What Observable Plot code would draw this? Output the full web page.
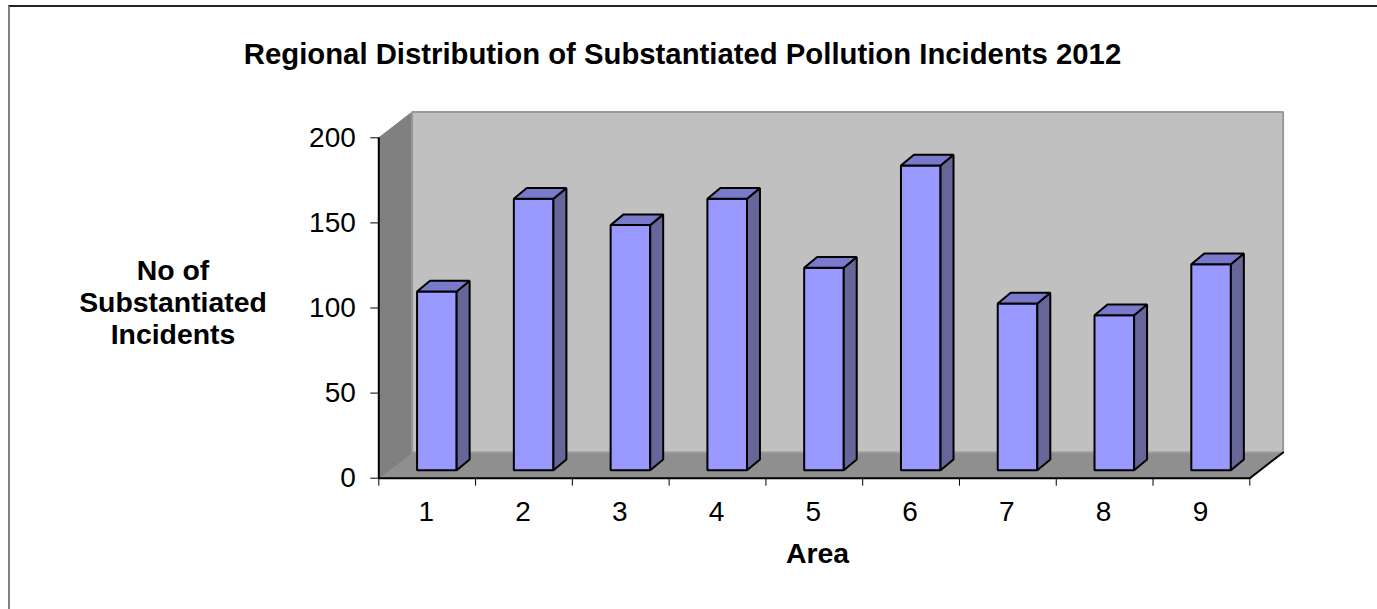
<!DOCTYPE html>
<html><head><meta charset="utf-8">
<script src="https://cdn.jsdelivr.net/npm/d3@7"></script>
<script src="https://cdn.jsdelivr.net/npm/@observablehq/plot@0.6"></script>
<style>
html,body{margin:0;background:#fff;overflow:hidden}
#frame{position:absolute;left:8px;top:5px;width:1369px;height:604px;box-sizing:border-box;border-left:2px solid #808080;border-top:2px solid #222}
#chart{position:absolute;left:0;top:0}
#chart svg{overflow:visible}
</style></head><body>
<div id="frame"></div><div id="chart"></div>
<script>
const areas = [1,2,3,4,5,6,7,8,9];
const incidents = [105,159.5,144,159.5,119,179,98,91,121];
const titleText = "Regional Distribution of Substantiated Pollution Incidents 2012";
const yLabelText = "No of\nSubstantiated\nIncidents";
const xLabelText = "Area";
const yTicks = [0,50,100,150,200];
const xBoundaries = [0.5,1.5,2.5,3.5,4.5,5.5,6.5,7.5,8.5,9.5];

// 3-D projection expressed in scale units
const depthX = 0.344, depthY = 15.1;
const barOffX = 0.1, barOffY = 4.7, barHalf = 0.2045, barDepthX = 0.134, barDepthY = 6.3;
const xMin = 0.5, xMax = 9.5, yMin = 0, yMax = 200;

const poly = (pts, id) => pts.map(([x,y]) => ({x,y,id}));
const wallLeft = poly([[xMin,yMin],[xMin+depthX,yMin+depthY],[xMin+depthX,yMax+depthY],[xMin,yMax]],"l");
const floor = poly([[xMin,yMin],[xMax,yMin],[xMax+depthX,yMin+depthY],[xMin+depthX,yMin+depthY]],"f");
const wallBack = poly([[xMin+depthX,yMin+depthY],[xMax+depthX,yMin+depthY],[xMax+depthX,yMax+depthY],[xMin+depthX,yMax+depthY]],"b");

const fronts=[],sides=[],tops=[];
areas.forEach((a,i)=>{
  const v=incidents[i], l=a+barOffX-barHalf, r=a+barOffX+barHalf, b=barOffY, t=barOffY+v;
  fronts.push(...poly([[l,b],[r,b],[r,t],[l,t]],a));
  sides.push(...poly([[r,b],[r+barDepthX,b+barDepthY],[r+barDepthX,t+barDepthY],[r,t]],a));
  tops.push(...poly([[l,t],[r,t],[r+barDepthX,t+barDepthY],[l+barDepthX,t+barDepthY]],a));
});
const face=(d,fill,stroke,sw)=>Plot.line(d,{x:"x",y:"y",z:"id",fill,stroke,strokeWidth:sw,curve:"linear-closed",strokeLinejoin:"miter",clip:false});

const plot = Plot.plot({
  width:1377, height:609,
  marginLeft:378.3, marginRight:127.7, marginTop:137.3, marginBottom:131.3,
  style:{fontFamily:"'Liberation Sans',Arial,sans-serif",background:"transparent",color:"#000"},
  x:{type:"linear",domain:[xMin,xMax]},
  y:{type:"linear",domain:[yMin,yMax]},
  marks:[
    face(floor,"#8f8f8f","#808080",1),
    face(wallLeft,"#808080","#808080",1),
    face(wallBack,"#c0c0c0","#999999",2),
    Plot.line([{x:xMax,y:yMin},{x:xMax+depthX,y:yMin+depthY}],{x:"x",y:"y",stroke:"#000",strokeWidth:2}),
    Plot.axisY({ticks:yTicks,tickSize:8,tickPadding:15,fontSize:28,label:null,anchor:"left",stroke:"#000",strokeOpacity:1}),
    Plot.axisX({ticks:xBoundaries,tickSize:8,tickFormat:()=>"",label:null,anchor:"bottom",stroke:"#000",strokeOpacity:1}),
    Plot.axisX({ticks:areas,tickSize:0,tickPadding:23,dx:-1,fontSize:28,label:null,anchor:"bottom",tickFormat:d3.format("d")}),
    Plot.ruleX([xMin],{y1:yMin,y2:yMax,stroke:"#000",strokeWidth:2}),
    Plot.ruleY([yMin],{x1:xMin,x2:xMax,stroke:"#000",strokeWidth:2}),
    face(fronts,"#9999ff","#000",2),
    face(sides,"#666699","#000",2),
    face(tops,"#7a7acc","#000",2),
    Plot.text([titleText],{frameAnchor:"top-left",dx:303.7,dy:-83,textAnchor:"middle",lineAnchor:"middle",fontSize:29.3,fontWeight:"bold",fill:"#000"}),
    Plot.text([yLabelText],{frameAnchor:"top-left",dx:-205.8,dy:164,textAnchor:"middle",lineAnchor:"middle",fontSize:28.4,fontWeight:"bold",fill:"#000",lineHeight:1.13}),
    Plot.text([xLabelText],{frameAnchor:"top-left",dx:438.7,dy:416,textAnchor:"middle",lineAnchor:"middle",fontSize:28.4,fontWeight:"bold",fill:"#000"})
  ]
});
document.getElementById("chart").appendChild(plot);
</script></body></html>
